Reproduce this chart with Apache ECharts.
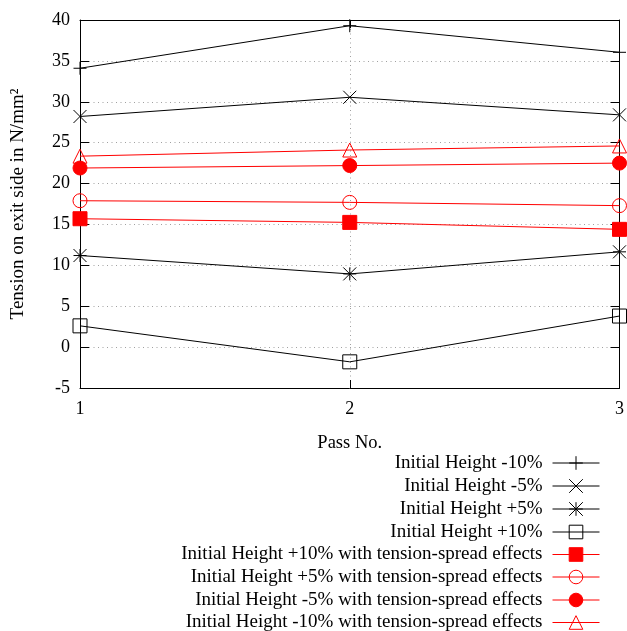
<!DOCTYPE html>
<html>
<head>
  <meta charset="utf-8">
  <title>Tension on exit side</title>
  <script src="https://cdn.jsdelivr.net/npm/echarts/dist/echarts.min.js"></script>
  <style>
    html, body { margin: 0; padding: 0; background: #fff; }
    #chart-container { width: 627px; height: 631px; }
  </style>
</head>
<body>
<div id="chart-container"></div>
<script>
  // data
  var passes = [1, 2, 3];
  var names = [
    'Initial Height -10%',
    'Initial Height -5%',
    'Initial Height +5%',
    'Initial Height +10%',
    'Initial Height +10% with tension-spread effects',
    'Initial Height +5% with tension-spread effects',
    'Initial Height -5% with tension-spread effects',
    'Initial Height -10% with tension-spread effects'
  ];
  var hMinus10 = [34.1, 39.3, 36.05];
  var hMinus5 = [28.2, 30.55, 28.4];
  var hPlus5 = [11.2, 8.95, 11.65];
  var hPlus10 = [2.6, -1.8, 3.8];
  var tsPlus10 = [15.7, 15.25, 14.4];
  var tsPlus5 = [17.9, 17.7, 17.3];
  var tsMinus5 = [21.9, 22.2, 22.5];
  var tsMinus10 = [23.35, 24.1, 24.6];

  var font = "'Liberation Serif', 'Times New Roman', serif";
  var black = '#000000';
  var red = '#ff0000';

  // gnuplot style point types
  var plusPath = 'path://M0,6L12,6M6,0L6,12';
  var crossPath = 'path://M0,0L12,12M12,0L0,12';
  var starPath = 'path://M0,6L12,6M6,0L6,12M0,0L12,12M12,0L0,12';

  function pairs(vals) {
    return passes.map(function (p, i) { return [p, vals[i]]; });
  }

  function makeSeries(name, vals, color, symbol, fill, size) {
    return {
      name: name,
      type: 'line',
      data: pairs(vals),
      symbol: symbol,
      symbolSize: size,
      showAllSymbol: true,
      clip: false,
      z: 5,
      lineStyle: { color: color, width: 1 },
      itemStyle: { color: fill, borderColor: color, borderWidth: 1 },
      emphasis: { disabled: true },
      animation: false
    };
  }

  var seriesList = [
    makeSeries(names[0], hMinus10, black, plusPath, black, 13),
    makeSeries(names[1], hMinus5, black, crossPath, black, 13),
    makeSeries(names[2], hPlus5, black, starPath, black, 13),
    makeSeries(names[3], hPlus10, black, 'rect', 'transparent', 14),
    makeSeries(names[4], tsPlus10, red, 'rect', red, 14),
    makeSeries(names[5], tsPlus5, red, 'circle', 'transparent', 14),
    makeSeries(names[6], tsMinus5, red, 'circle', red, 14),
    makeSeries(names[7], tsMinus10, red, 'triangle', 'transparent', 14)
  ];

  // one legend per row so the texts line up on the right
  var legendRows = [463, 486, 509, 532, 554.5, 577, 600, 622.5];
  var legends = names.map(function (n, i) {
    return {
      data: [n],
      right: 27,
      top: legendRows[i] - 10,
      padding: 0,
      align: 'right',
      itemWidth: 47,
      itemHeight: 17,
      selectedMode: false,
      itemStyle: { borderWidth: 1 },
      lineStyle: { width: 1 },
      textStyle: { fontFamily: font, fontSize: 19, color: black, lineHeight: 20, padding: [0, 5, 0, 0] }
    };
  });

  var axisLineStyle = { show: true, onZero: false, lineStyle: { color: black, width: 1 } };
  var dotted = { color: '#a0a0a0', width: 1, type: [1, 3.5] };

  var myChart = echarts.init(document.getElementById('chart-container'));
  myChart.setOption({
    animation: false,
    backgroundColor: '#fff',
    grid: { left: 80, right: 5, top: 20, bottom: 243 },
    legend: legends,
    xAxis: [
      {
        type: 'value', min: 1, max: 3, interval: 1, position: 'bottom',
        name: 'Pass No.', nameLocation: 'middle', nameGap: 46,
        nameTextStyle: { fontFamily: font, fontSize: 18.5, color: black },
        axisLine: axisLineStyle,
        axisTick: { show: true, inside: true, length: 8, lineStyle: { color: black } },
        axisLabel: { fontFamily: font, fontSize: 18, color: black, margin: 12 },
        splitLine: { show: true, showMinLine: false, showMaxLine: false, lineStyle: dotted }
      },
      {
        type: 'value', min: 1, max: 3, interval: 1, position: 'top',
        axisLine: axisLineStyle,
        axisTick: { show: true, inside: true, length: 8, lineStyle: { color: black } },
        axisLabel: { show: false },
        splitLine: { show: false }
      }
    ],
    yAxis: [
      {
        type: 'value', min: -5, max: 40, interval: 5, position: 'left',
        name: 'Tension on exit side in N/mm\u00b2', nameLocation: 'middle', nameGap: 52,
        nameTextStyle: { fontFamily: font, fontSize: 19, color: black },
        axisLine: axisLineStyle,
        axisTick: { show: true, inside: true, length: 9, lineStyle: { color: black } },
        axisLabel: { fontFamily: font, fontSize: 18, color: black, margin: 10 },
        splitLine: { show: true, showMinLine: false, showMaxLine: false, lineStyle: dotted }
      },
      {
        type: 'value', min: -5, max: 40, interval: 5, position: 'right',
        axisLine: axisLineStyle,
        axisTick: { show: true, inside: true, length: 9, lineStyle: { color: black } },
        axisLabel: { show: false },
        splitLine: { show: false }
      }
    ],
    series: seriesList
  });
</script>
</body>
</html>
